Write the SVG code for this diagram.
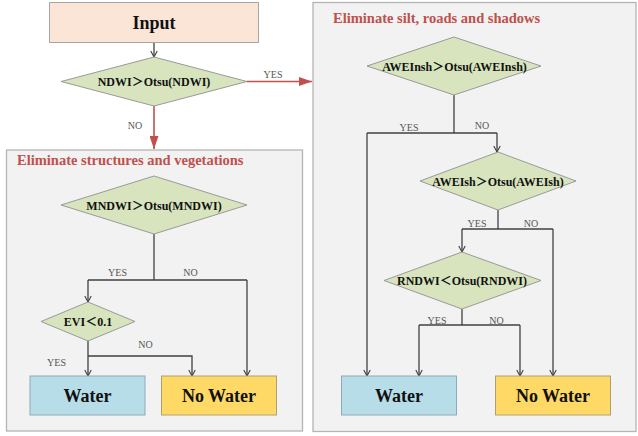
<svg xmlns="http://www.w3.org/2000/svg" width="638" height="436" viewBox="0 0 638 436">
<style>
.grp{fill:#f2f2f2;stroke:#b4b4b4;stroke-width:1.3}
.dia{fill:#d7e4bd;stroke:#9a9a9a;stroke-width:1}
.title{font-family:"Liberation Serif",serif;font-weight:bold;font-size:14.5px;fill:#c0504d}
.dt{font-family:"Liberation Serif","Noto Sans CJK SC",serif;font-weight:bold;font-size:12px;fill:#111;text-anchor:middle}
.bt{font-family:"Liberation Serif",serif;font-weight:bold;font-size:18px;fill:#111;text-anchor:middle}
.lbl{font-family:"Liberation Serif",serif;font-size:10px;fill:#555;text-anchor:middle}
.ln{fill:none;stroke:#404040;stroke-width:1.3}
.rl{fill:none;stroke:#c0504d;stroke-width:1.6}
</style>
<defs>
<marker id="oa" markerUnits="userSpaceOnUse" markerWidth="8" markerHeight="8" viewBox="0 0 8 8" refX="7" refY="4" orient="auto">
<path d="M1,0.8 L7,4 L1,7.2" fill="none" stroke="#404040" stroke-width="1.1"/>
</marker>
<marker id="ra" markerUnits="userSpaceOnUse" markerWidth="13" markerHeight="9" viewBox="0 0 13 9" refX="13" refY="4.5" orient="auto">
<path d="M0,0 L13,4.5 L0,9 Z" fill="#c0504d"/>
</marker>
</defs>

<g id="group-left">
<rect class="grp" x="6.5" y="150" width="296" height="281"/>
<text class="title" x="17" y="165">Eliminate structures and vegetations</text>
</g>
<g id="group-right">
<rect class="grp" x="313" y="2.5" width="323" height="429"/>
<text class="title" x="333" y="23">Eliminate silt, roads and shadows</text>
</g>

<g id="connectors">
<path class="ln" d="M154,42 V57" marker-end="url(#oa)"/>
<path class="rl" d="M247,81.5 H312" marker-end="url(#ra)"/>
<path class="rl" d="M154,106 V149" marker-end="url(#ra)"/>
<text class="lbl" x="273" y="78">YES</text>
<text class="lbl" x="135" y="129">NO</text>

<path class="ln" d="M154,234 V280"/>
<path class="ln" d="M88,280 H247"/>
<path class="ln" d="M88,280 V302" marker-end="url(#oa)"/>
<path class="ln" d="M247,280 V376" marker-end="url(#oa)"/>
<text class="lbl" x="117.5" y="275.5">YES</text>
<text class="lbl" x="190.5" y="275.5">NO</text>

<path class="ln" d="M88,341 V376" marker-end="url(#oa)"/>
<path class="ln" d="M88,356 H192 V376" marker-end="url(#oa)"/>
<text class="lbl" x="145.5" y="348">NO</text>
<text class="lbl" x="56.5" y="366">YES</text>

<path class="ln" d="M454,95 V133"/>
<path class="ln" d="M367,133 H497"/>
<path class="ln" d="M367,133 V376" marker-end="url(#oa)"/>
<path class="ln" d="M497,133 V152" marker-end="url(#oa)"/>
<text class="lbl" x="409" y="130.5">YES</text>
<text class="lbl" x="482" y="129">NO</text>

<path class="ln" d="M498,210 V229"/>
<path class="ln" d="M462,229 H553"/>
<path class="ln" d="M462,229 V252" marker-end="url(#oa)"/>
<path class="ln" d="M553,229 V376" marker-end="url(#oa)"/>
<text class="lbl" x="477" y="226.5">YES</text>
<text class="lbl" x="531" y="226.5">NO</text>

<path class="ln" d="M462,309 V325"/>
<path class="ln" d="M419,325 H520"/>
<path class="ln" d="M419,325 V376" marker-end="url(#oa)"/>
<path class="ln" d="M520,325 V376" marker-end="url(#oa)"/>
<text class="lbl" x="437" y="324">YES</text>
<text class="lbl" x="496.5" y="324">NO</text>
</g>

<g id="node-input">
<rect x="49.5" y="2.5" width="209" height="40" fill="#fbe5d6" stroke="#a6a6a6" stroke-width="1"/>
<text class="bt" x="154" y="28.5">Input</text>
</g>
<g id="node-ndwi">
<polygon class="dia" points="154,57 247,81.5 154,106 61,81.5"/>
<text class="dt" x="154" y="86">NDWI＞Otsu(NDWI)</text>
</g>
<g id="node-mndwi">
<polygon class="dia" points="154,176 247,205 154,234 61,205"/>
<text class="dt" x="154" y="209.5">MNDWI＞Otsu(MNDWI)</text>
</g>
<g id="node-evi">
<polygon class="dia" points="88,302 135,321.5 88,341 41,321.5"/>
<text class="dt" x="88" y="326">EVI＜0.1</text>
</g>
<g id="node-water-left">
<rect x="30" y="376" width="115" height="39" fill="#b7dde8" stroke="#8eaab8" stroke-width="1"/>
<text class="bt" x="87.5" y="401.5">Water</text>
</g>
<g id="node-nowater-left">
<rect x="161.5" y="376" width="115" height="39" fill="#ffd966" stroke="#b0a070" stroke-width="1"/>
<text class="bt" x="219" y="401.5">No Water</text>
</g>
<g id="node-aweinsh">
<polygon class="dia" points="454,37 541,66 454,95 367,66"/>
<text class="dt" x="454.5" y="70.5">AWEInsh＞Otsu(AWEInsh)</text>
</g>
<g id="node-aweish">
<polygon class="dia" points="498,152 576,181 498,210 420,181"/>
<text class="dt" x="498" y="185.5">AWEIsh＞Otsu(AWEIsh)</text>
</g>
<g id="node-rndwi">
<polygon class="dia" points="462,252 541,280.5 462,309 384,280.5"/>
<text class="dt" x="462" y="285">RNDWI＜Otsu(RNDWI)</text>
</g>
<g id="node-water-right">
<rect x="341.5" y="376" width="115" height="39" fill="#b7dde8" stroke="#8eaab8" stroke-width="1"/>
<text class="bt" x="399" y="401.5">Water</text>
</g>
<g id="node-nowater-right">
<rect x="495.5" y="376" width="115" height="39" fill="#ffd966" stroke="#b0a070" stroke-width="1"/>
<text class="bt" x="553" y="401.5">No Water</text>
</g>
</svg>
